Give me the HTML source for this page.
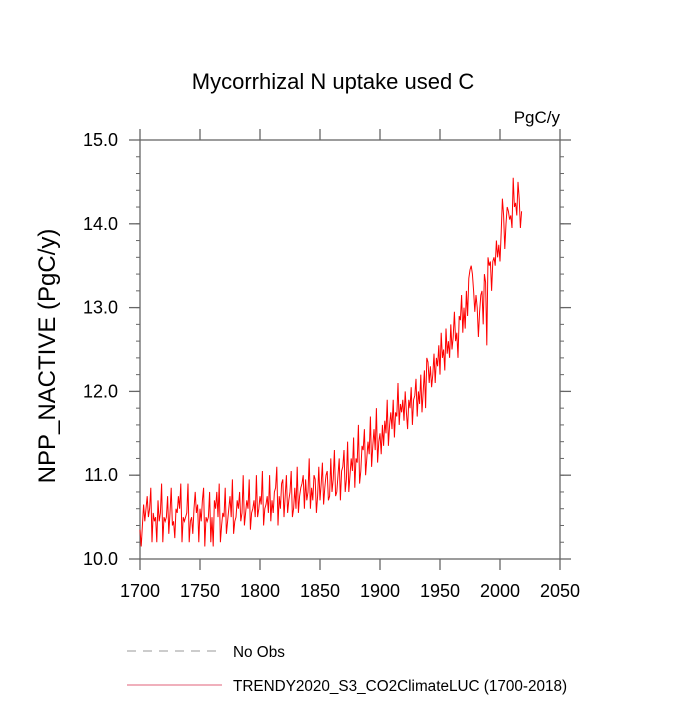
<!DOCTYPE html>
<html><head><meta charset="utf-8"><style>
body{margin:0;background:#fff;}
svg text{font-family:"Liberation Sans",sans-serif;}
</style></head><body>
<svg id="chart" width="700" height="700" xmlns="http://www.w3.org/2000/svg">
<text x="333" y="89" font-size="22" text-anchor="middle">Mycorrhizal N uptake used C</text>
<text x="560" y="123" font-size="17" text-anchor="end">PgC/y</text>
<text transform="translate(55,356) rotate(-90)" font-size="24" text-anchor="middle">NPP_NACTIVE  (PgC/y)</text>
<g id="axes"></g>
<polyline id="series" fill="none" stroke="#ff0000" stroke-width="1"/>
<line x1="127" y1="651" x2="222" y2="651" stroke="#999" stroke-dasharray="9,7"/>
<text x="233" y="657" font-size="15.3">No Obs</text>
<line x1="127" y1="685" x2="222" y2="685" stroke="#e0607a" stroke-width="1"/>
<text x="233" y="691" font-size="15.3">TRENDY2020_S3_CO2ClimateLUC (1700-2018)</text>
</svg>
<script>
const startYear = 1700;
const xTicks = [1700,1750,1800,1850,1900,1950,2000,2050];
const yTicks = [10.0,11.0,12.0,13.0,14.0,15.0];
const nppValues = [
10.35,10.15,10.4,10.65,10.45,10.6,10.75,10.5,10.6,10.85,
10.2,10.55,10.45,10.5,10.2,10.7,10.45,10.55,10.9,10.2,
10.5,10.45,10.5,10.75,10.3,10.55,10.85,10.4,10.45,10.25,
10.6,10.55,10.75,10.6,10.9,10.2,10.5,10.45,10.5,10.55,
10.9,10.2,10.45,10.5,10.3,10.6,10.8,10.55,10.65,10.2,
10.6,10.45,10.7,10.85,10.15,10.5,10.45,10.5,10.8,10.2,
10.5,10.15,10.7,10.6,10.8,10.5,10.9,10.2,10.4,10.55,
10.5,10.85,10.3,10.45,10.6,10.75,10.5,10.95,10.3,10.45,
10.5,10.7,10.6,10.8,10.45,10.55,11.0,10.4,10.55,10.7,
10.6,10.95,10.35,10.55,10.6,10.7,10.5,11.0,10.5,10.6,
10.75,10.65,11.05,10.4,10.6,10.65,10.75,10.55,11.0,10.45,
10.7,10.55,10.8,10.85,11.1,10.4,10.75,10.6,10.9,10.95,
10.5,10.75,11.0,10.55,10.7,10.8,11.05,10.5,10.6,10.85,
10.6,11.1,10.55,10.75,10.85,10.9,11.0,10.6,10.95,10.7,
10.8,11.2,10.6,10.85,10.7,11.0,10.95,10.55,10.75,11.1,
10.7,10.9,11.15,10.65,10.85,11.0,11.05,10.7,10.75,11.2,
10.8,10.95,11.3,10.75,10.8,11.0,11.2,10.7,11.05,11.1,
11.3,10.8,10.95,11.4,10.8,11.0,11.2,11.05,11.45,10.85,
11.2,11.15,11.6,10.9,11.05,11.35,11.3,11.55,11.0,11.2,
11.4,11.25,11.7,11.1,11.35,11.55,11.3,11.8,11.15,11.4,
11.5,11.25,11.6,11.35,11.65,11.5,11.9,11.35,11.6,11.75,
11.55,11.9,11.45,11.75,11.7,12.1,11.6,11.85,11.75,11.9,
11.65,12.0,11.75,11.55,11.9,11.8,12.05,11.6,11.9,11.95,
12.15,11.7,12.0,11.85,12.2,11.75,12.0,12.25,11.8,12.4,
12.35,12.1,12.3,12.05,12.2,12.45,12.1,12.4,12.3,12.55,
12.2,12.7,12.4,12.5,12.25,12.75,12.45,12.6,12.4,12.8,
12.5,12.65,12.95,12.6,12.7,12.4,12.9,12.85,13.15,12.7,
13.0,12.75,13.2,12.9,13.35,13.45,13.5,13.4,13.2,12.95,
13.15,13.0,12.65,12.95,13.15,13.2,12.8,13.4,13.3,12.55,
13.6,13.5,13.55,13.2,13.55,13.6,13.5,13.8,13.6,13.75,
13.55,13.9,14.3,14.1,13.7,14.0,14.2,14.15,14.05,14.1,
13.95,14.55,14.2,14.25,14.1,14.5,14.3,13.95,14.15];

const L=140,R=560,T=140,B=559;
const xMin=1700,xMax=2050,yMin=10,yMax=15;
function xs(v){return L+(v-xMin)/(xMax-xMin)*(R-L);}
function ys(v){return B-(v-yMin)/(yMax-yMin)*(B-T);}
const NS="http://www.w3.org/2000/svg";
const g=document.getElementById('axes');
const AX='#666';
function mk(tag,attrs,parent){const e=document.createElementNS(NS,tag);for(const k in attrs)e.setAttribute(k,attrs[k]);(parent||g).appendChild(e);return e;}
const frame=mk('rect',{x:L,y:T,width:R-L,height:B-T,fill:'none',stroke:AX,'stroke-width':1.3});


for(let v=yMin;v<=yMax+1e-9;v+=0.2){const y=ys(v);
 mk('line',{x1:L,y1:y,x2:L-4,y2:y,stroke:AX});mk('line',{x1:R,y1:y,x2:R+4,y2:y,stroke:AX});}
xTicks.forEach(t=>{const x=xs(t);
 mk('line',{x1:x,y1:B,x2:x,y2:B+11,stroke:AX,'stroke-width':1.3});
 mk('line',{x1:x,y1:T,x2:x,y2:T-11,stroke:AX,'stroke-width':1.3});
 const tx=mk('text',{x:x,y:B+38,'font-size':18,'text-anchor':'middle'});tx.textContent=t;
 
 });
yTicks.forEach(t=>{const y=ys(t);
 mk('line',{x1:L,y1:y,x2:L-11,y2:y,stroke:AX,'stroke-width':1.3});
 mk('line',{x1:R,y1:y,x2:R+11,y2:y,stroke:AX,'stroke-width':1.3});
 const tx=mk('text',{x:L-22,y:y+6,'font-size':18,'text-anchor':'end'});tx.textContent=t.toFixed(1);
 
 });
document.getElementById('series').setAttribute('points',nppValues.map((v,i)=>xs(startYear+i).toFixed(2)+','+ys(v).toFixed(2)).join(' '));
</script>
</body></html>
